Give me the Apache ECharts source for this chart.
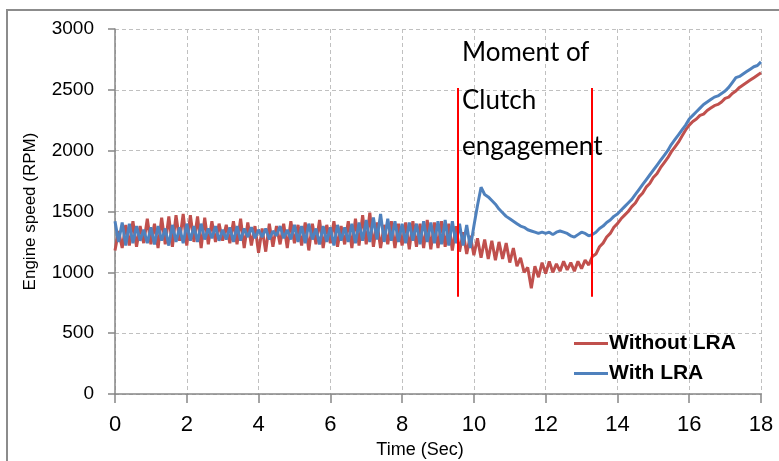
<!DOCTYPE html>
<html><head><meta charset="utf-8">
<script src="https://cdn.jsdelivr.net/npm/echarts@6/dist/echarts.min.js"></script>
<style>html,body{margin:0;padding:0;background:#fff}#c{width:779px;height:461px}</style>
</head><body><div id="c"></div>
<script>
// time step between samples (s)
const timeStep = 0.1;
// Engine speed without LRA (RPM), samples every 0.1 s from 0 to 18 s
const withoutLRA = [
1180,1340,1200,1390,1220,1420,1210,1380,1240,1440,
1230,1400,1200,1450,1230,1460,1210,1470,1260,1480,
1220,1470,1250,1460,1200,1450,1230,1420,1250,1400,
1260,1390,1240,1420,1230,1440,1200,1410,1220,1380,
1160,1360,1170,1400,1210,1380,1230,1400,1200,1420,
1240,1390,1220,1410,1180,1400,1230,1430,1200,1390,
1240,1420,1210,1380,1230,1420,1200,1440,1220,1470,
1230,1490,1210,1410,1200,1390,1230,1420,1200,1400,
1220,1410,1190,1420,1210,1400,1200,1430,1190,1410,
1200,1420,1210,1400,1180,1380,1170,1330,1150,1300,
1140,1280,1120,1270,1110,1260,1100,1250,1110,1240,
1080,1200,1050,1120,1000,1040,870,1050,960,1080,
990,1090,1000,1070,1010,1090,1020,1080,1010,1090,
1030,1100,1060,1130,1150,1210,1240,1290,1320,1370,
1400,1440,1470,1500,1540,1570,1620,1650,1700,1730,
1780,1810,1860,1900,1940,1990,2030,2070,2120,2170,
2210,2240,2260,2290,2300,2330,2350,2370,2380,2400,
2430,2440,2470,2490,2520,2540,2560,2580,2600,2620,
2640
];
// Engine speed with LRA (RPM)
const withLRA = [
1420,1250,1410,1220,1400,1240,1380,1260,1350,1240,
1370,1230,1380,1260,1360,1220,1390,1250,1370,1240,
1400,1260,1380,1250,1400,1270,1360,1280,1380,1260,
1350,1270,1370,1250,1380,1260,1360,1290,1370,1280,
1350,1290,1360,1270,1340,1300,1380,1280,1350,1270,
1390,1250,1380,1240,1400,1270,1360,1230,1380,1250,
1370,1220,1390,1260,1370,1250,1400,1240,1410,1260,
1430,1250,1450,1270,1480,1250,1440,1260,1420,1250,
1400,1240,1410,1260,1400,1230,1420,1250,1410,1240,
1420,1230,1430,1220,1420,1240,1400,1220,1390,1200,
1380,1550,1700,1640,1620,1590,1560,1520,1490,1460,
1440,1420,1400,1380,1370,1350,1340,1330,1320,1330,
1320,1330,1310,1330,1340,1330,1320,1300,1290,1310,
1330,1320,1300,1310,1330,1360,1380,1410,1430,1460,
1480,1510,1540,1570,1600,1640,1680,1720,1760,1800,
1840,1880,1920,1960,2000,2050,2090,2130,2170,2210,
2260,2290,2320,2350,2380,2400,2420,2440,2450,2470,
2490,2520,2560,2600,2610,2630,2650,2670,2690,2700,
2730
];
const seriesNames = ['Without LRA', 'With LRA'];
const xTicks = [0, 18, 2];      // min, max, interval
const yTicks = [0, 3000, 500];  // min, max, interval
// clutch engagement markers (time s) and their vertical extent (RPM)
const clutchTimes = [9.54, 13.28];
const markerRange = [800, 2515];
const annotationLines = ['Moment of', 'Clutch', 'engagement'];
const titleText = 'Dynamic behaviour of engine as the clutch slips and engine speed rises';

const toPairs = arr => arr.map((v, i) => [+(i * timeStep).toFixed(1), v]);

const chart = echarts.init(document.getElementById('c'));
const axisCol = '#868686';
const gridCol = '#c0c0c0';
chart.setOption({
  animation: false,
  backgroundColor: '#fff',
  grid: { left: 115, right: 18, top: 29, bottom: 67, containLabel: false, outerBoundsMode: 'none' },
  xAxis: {
    type: 'value', min: xTicks[0], max: xTicks[1], interval: xTicks[2],
    name: 'Time (Sec)', nameLocation: 'middle', nameGap: 47,
    nameTextStyle: { fontFamily: 'Liberation Sans', fontSize: 18, color: '#000', padding: [0, 36, 0, 0] },
    axisLine: { lineStyle: { color: axisCol, width: 1.5 } },
    axisTick: { show: true, length: 9, lineStyle: { color: axisCol, width: 1.5 } },
    axisLabel: { fontFamily: 'Liberation Sans', fontSize: 22, color: '#000', margin: 20 },
    splitLine: { show: true, lineStyle: { color: gridCol, type: [4, 3], width: 1 } }
  },
  yAxis: {
    type: 'value', min: yTicks[0], max: yTicks[1], interval: yTicks[2],
    name: 'Engine speed (RPM)', nameLocation: 'middle', nameGap: 76, nameRotate: 90,
    nameTextStyle: { fontFamily: 'Liberation Sans', fontSize: 17, color: '#000' },
    axisLine: { show: true, lineStyle: { color: axisCol, width: 1.5 } },
    axisTick: { show: true, length: 7, lineStyle: { color: axisCol, width: 1.5 } },
    axisLabel: { fontFamily: 'Liberation Sans', fontSize: 19, color: '#000', margin: 21, formatter: v => String(v) },
    splitLine: { show: true, lineStyle: { color: gridCol, type: [4, 3], width: 1 } }
  },
  legend: {
    orient: 'vertical', left: 569, top: 328, itemGap: 9,
    itemWidth: 34, itemHeight: 3, icon: 'rect',
    textStyle: { fontFamily: 'Liberation Sans', fontSize: 21, fontWeight: 'bold', color: '#000', padding: [0, 0, 0, -4] },
    data: seriesNames
  },
  series: [
    {
      name: seriesNames[0], type: 'line', data: toPairs(withoutLRA), showSymbol: false,
      color: '#C0504D', lineStyle: { width: 3, color: '#C0504D' }, z: 2,
      markLine: {
        silent: true, symbol: ['none', 'none'], label: { show: false },
        lineStyle: { color: '#FF0000', width: 2, type: 'solid' },
        data: clutchTimes.map(t => [{ coord: [t, markerRange[0]] }, { coord: [t, markerRange[1]] }])
      }
    },
    {
      name: seriesNames[1], type: 'line', data: toPairs(withLRA), showSymbol: false,
      color: '#4F81BD', lineStyle: { width: 3, color: '#4F81BD' }, z: 3
    }
  ],
  graphic: [
    { type: 'polyline', shape: { points: [[7, 461], [7, 10], [779, 10]] }, style: { stroke: '#8c8c8c', lineWidth: 2, fill: null }, z: 1 },
    { type: 'text', left: 103, top: -27, style: { text: titleText, fontFamily: 'Liberation Sans', fontSize: 26, fill: '#000' }, z: 0 },
    { type: 'text', left: 462, top: 40, style: { text: annotationLines[0], fontFamily: 'Lato', fontSize: 26, fill: '#000' }, z: 10 },
    { type: 'text', left: 462, top: 88, style: { text: annotationLines[1], fontFamily: 'Lato', fontSize: 26, fill: '#000' }, z: 10 },
    { type: 'text', left: 462, top: 134, style: { text: annotationLines[2], fontFamily: 'Lato', fontSize: 26, fill: '#000' }, z: 10 }
  ]
});
</script></body></html>
